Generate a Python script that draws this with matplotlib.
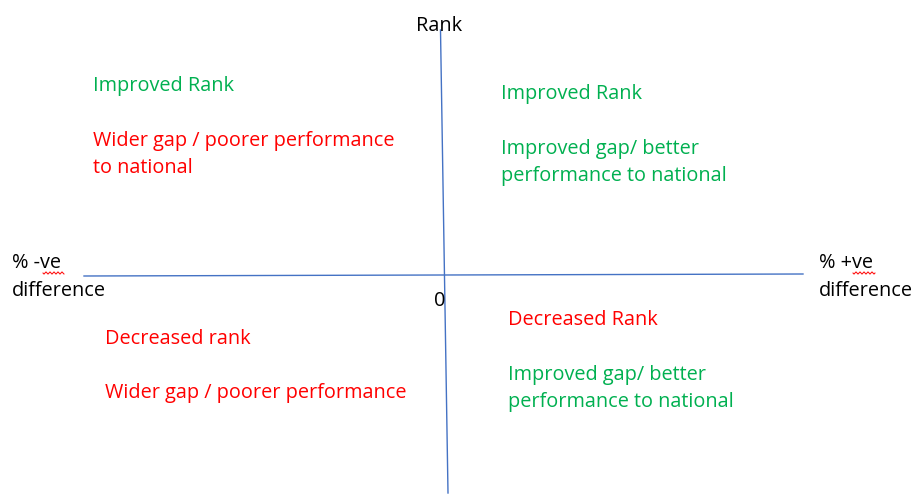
import matplotlib
matplotlib.use("Agg")
import matplotlib.pyplot as plt
import numpy as np

W, H = 913, 495
GREEN = "#00B050"
RED = "#FF0000"
BLUE = "#4472C4"

# Axis endpoints (pixel coordinates of the diagram)
h_axis_x = [84, 803]
h_axis_y = [276, 274]
v_axis_x = [440.5, 448]
v_axis_y = [30, 493]

# Text blocks: (x, y_center, text, colour)
labels = [
    (416, 26, "Rank", "black"),
    (434, 301, "0", "black"),
    (12, 263, "% -ve", "black"),
    (12, 291, "difference", "black"),
    (819, 263, "% +ve", "black"),
    (819, 291, "difference", "black"),
    (93, 86, "Improved Rank", GREEN),
    (93, 141, "Wider gap / poorer performance", RED),
    (93, 168, "to national", RED),
    (501, 94, "Improved Rank", GREEN),
    (501, 149, "Improved gap/ better", GREEN),
    (501, 176, "performance to national", GREEN),
    (105, 339, "Decreased rank", RED),
    (105, 393, "Wider gap / poorer performance", RED),
    (508, 320, "Decreased Rank", RED),
    (508, 375, "Improved gap/ better", GREEN),
    (508, 402, "performance to national", GREEN),
]

fig = plt.figure(figsize=(W / 100, H / 100), dpi=100)
ax = fig.add_axes([0, 0, 1, 1])
ax.set_xlim(0, W)
ax.set_ylim(H, 0)
ax.axis("off")

ax.plot(h_axis_x, h_axis_y, color=BLUE, lw=1.0)
ax.plot(v_axis_x, v_axis_y, color=BLUE, lw=1.0)

for x, y, t, c in labels:
    ax.text(x, y, t, color=c, fontsize=14.3, family="Open Sans",
            ha="left", va="center")

# spell-check squiggles under "ve"
for x0, x1 in [(43, 64), (853, 875)]:
    xs = np.linspace(x0, x1, 60)
    ys = 273 + 1.0 * np.sin((xs - x0) * 2 * np.pi / 4)
    ax.plot(xs, ys, color=RED, lw=0.7)

fig.savefig("out.png", dpi=100)
